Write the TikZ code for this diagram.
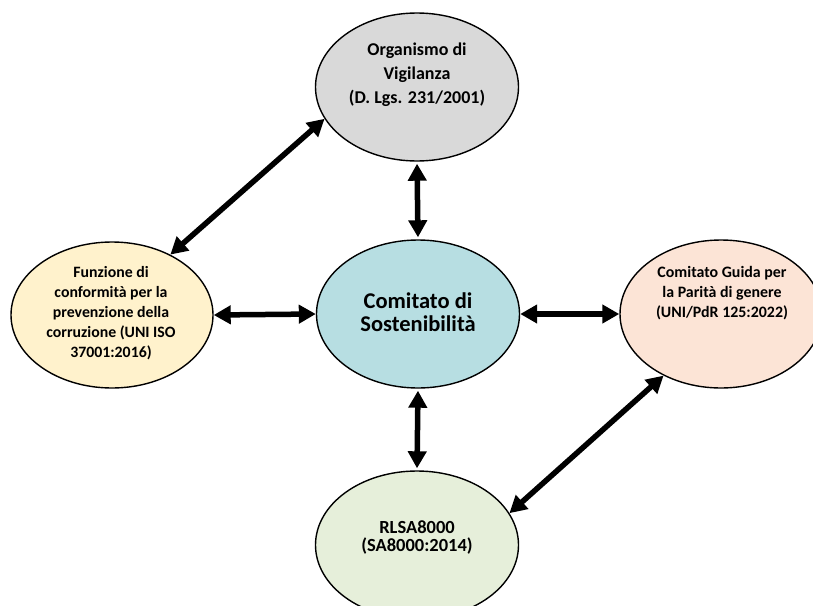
\documentclass[tikz,border=0pt]{standalone}
\usepackage{fontspec}
\setmainfont{Carlito}
\usetikzlibrary{shapes.geometric,arrows.meta}
\definecolor{cgray}{HTML}{D9D9D9}
\definecolor{cyellow}{HTML}{FFF2CC}
\definecolor{cblue}{HTML}{B7DEE2}
\definecolor{cpeach}{HTML}{FCE4D6}
\definecolor{cgreen}{HTML}{E6EFDA}
\tikzset{
  bubble/.style={ellipse, draw=black, line width=1.4pt, inner sep=0pt,
    minimum width=203pt, minimum height=148pt},
  lbl/.style={align=center, inner sep=0pt, font=\bfseries},
  link/.style={line width=5.5pt, {Triangle[length=17pt,width=18pt]}-{Triangle[length=17pt,width=18pt]}}
}
\begin{document}
\begin{tikzpicture}[x=1pt,y=-1pt]
\useasboundingbox (0,0) rectangle (813,605);
\node[bubble, fill=cgray] (top) at (417,87) {};
\node[bubble, fill=cyellow, minimum width=202pt, minimum height=146pt] (left) at (112,315) {};
\node[bubble, fill=cblue] (mid) at (418,314) {};
\node[bubble, fill=cpeach, minimum width=202pt] (right) at (721,314) {};
\node[bubble, fill=cgreen] (bot) at (417,545) {};

\node[lbl, font=\bfseries\fontsize{18}{24}\selectfont] (toptext) at (417,75) {Organismo di\\Vigilanza\\(D. Lgs. 231/2001)};
\node[lbl, font=\bfseries\fontsize{15.8}{20}\selectfont] (lefttext) at (111,313) {Funzione di\\conformità per la\\prevenzione della\\corruzione (UNI ISO\\37001:2016)};
\node[lbl, font=\bfseries\fontsize{22.5}{23}\selectfont] (midtext) at (418,312) {Comitato di\\Sostenibilità};
\node[lbl, font=\bfseries\fontsize{15.9}{20}\selectfont] (righttext) at (722,293) {Comitato Guida per\\la Parità di genere\\(UNI/PdR 125:2022)};
\node[lbl, font=\bfseries\fontsize{18.5}{18}\selectfont] (bottext) at (417,538) {RLSA8000\\(SA8000:2014)};

\draw[link] (left.east) -- (mid.west);
\draw[link] (mid.east) -- (right.west);
\draw[link, shorten <=2pt, shorten >=2pt] (top.south) -- (mid.north);
\draw[link, shorten <=2pt, shorten >=2pt] (mid.south) -- (bot.north);
\draw[link] (left.46) -- (top.199);
\draw[link] (bot.19) -- (right.227);
\end{tikzpicture}
\end{document}
